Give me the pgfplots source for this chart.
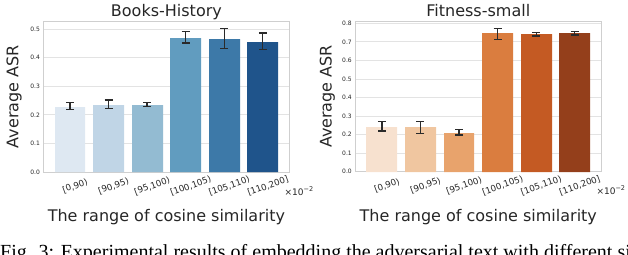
\documentclass[border=0pt]{standalone}
\usepackage{fontspec}
\setmainfont{DejaVu Sans}
\newfontfamily\capfont{Liberation Serif}
\usepackage{pgfplots}
\pgfplotsset{compat=1.18}

\definecolor{bA}{HTML}{DEE8F2}
\definecolor{bB}{HTML}{C0D5E6}
\definecolor{bC}{HTML}{93BBD2}
\definecolor{bD}{HTML}{619CBF}
\definecolor{bE}{HTML}{3D79A8}
\definecolor{bF}{HTML}{1F548B}
\definecolor{oA}{HTML}{F7E1CF}
\definecolor{oB}{HTML}{F0C6A0}
\definecolor{oC}{HTML}{E8A36C}
\definecolor{oD}{HTML}{DA7D3F}
\definecolor{oE}{HTML}{C45A23}
\definecolor{oF}{HTML}{943F1B}
\definecolor{spinec}{HTML}{CFCFCF}
\definecolor{gridc}{HTML}{E3E3E3}
\definecolor{errc}{HTML}{2A2A2A}
\definecolor{txtc}{HTML}{262626}

\pgfplotsset{
  every axis title shift=0pt,
  panel/.style={
    scale only axis, width=246pt, height=150.5pt, anchor=south west,
    xmin=-0.69, xmax=5.69, ymin=0,
    xtick={0,...,5},
    xticklabels={{[0,90)},{[90,95)},{[95,100)},{[100,105)},{[105,110)},{[110,200]}},
    major tick length=0pt,
    ymajorgrids, grid style={draw=gridc, line width=1pt},
    axis line style={draw=spinec, line width=0.9pt},
    /pgf/number format/assume math mode=true,
    tick label style={text=txtc},
    xticklabel style={font=\fontsize{8.7}{10}\selectfont, rotate=20, anchor=center, yshift=-15pt},
    yticklabel style={font=\fontsize{6}{7}\selectfont, /pgf/number format/fixed,
      /pgf/number format/fixed zerofill, /pgf/number format/precision=1},
    ylabel={Average ASR},
    xlabel={The range of cosine similarity},
    label style={font=\fontsize{16}{18}\selectfont, text=txtc},
    xlabel style={at={(axis description cs:0.5,0)}, anchor=base, yshift=-49.7pt},
    title style={at={(axis description cs:0.5,1)}, anchor=base, yshift=4.8pt,
      font=\fontsize{16}{18}\selectfont, text=txtc},
    ybar, bar width=0.8, bar shift=0pt,
    clip=false,
  },
  barc/.style={fill=#1, draw=#1, line width=0.01pt,
    error bars/.cd, y dir=both, y explicit,
    error mark=-,
    error bar style={line width=1.3pt, draw=errc, solid},
    error mark options={rotate=90, line width=1.3pt, draw=errc, solid, mark size=4pt}},
}

\begin{document}
\begin{tikzpicture}[x=1pt,y=1pt]

\begin{axis}[panel, at={(43.4pt,82pt)}, ymax=0.527,
  ytick={0,0.1,...,0.5},
  title={Books-History},
  ylabel style={at={(axis description cs:-0.1187,0.5)}, anchor=center}]
\addplot[barc=bA] coordinates {(0,0.228) += (0,0.016) -= (0,0.008)};
\addplot[barc=bB] coordinates {(1,0.234) += (0,0.018) -= (0,0.011)};
\addplot[barc=bC] coordinates {(2,0.234) += (0,0.010) -= (0,0.004)};
\addplot[barc=bD] coordinates {(3,0.470) += (0,0.021) -= (0,0.018)};
\addplot[barc=bE] coordinates {(4,0.464) += (0,0.038) -= (0,0.032)};
\addplot[barc=bF] coordinates {(5,0.455) += (0,0.032) -= (0,0.026)};
\node[anchor=base west, inner sep=0pt, font=\fontsize{9}{10}\selectfont, text=txtc]
  at (axis description cs:1,0) [xshift=-5pt, yshift=-23pt]
  {×10\raisebox{0.42em}{\fontsize{6.5}{7}\selectfont −2}};
\end{axis}

\begin{axis}[panel, at={(355.3pt,82.3pt)}, ymax=0.812,
  ytick={0,0.1,...,0.8},
  title={Fitness-small},
  ylabel style={at={(axis description cs:-0.1138,0.5)}, anchor=center}]
\addplot[barc=oA] coordinates {(0,0.243) += (0,0.027) -= (0,0.024)};
\addplot[barc=oB] coordinates {(1,0.243) += (0,0.027) -= (0,0.036)};
\addplot[barc=oC] coordinates {(2,0.210) += (0,0.019) -= (0,0.012)};
\addplot[barc=oD] coordinates {(3,0.746) += (0,0.027) -= (0,0.031)};
\addplot[barc=oE] coordinates {(4,0.741) += (0,0.010) -= (0,0.009)};
\addplot[barc=oF] coordinates {(5,0.746) += (0,0.009) -= (0,0.009)};
\node[anchor=base west, inner sep=0pt, font=\fontsize{9}{10}\selectfont, text=txtc]
  at (axis description cs:1,0) [xshift=-5pt, yshift=-23pt]
  {×10\raisebox{0.42em}{\fontsize{6.5}{7}\selectfont −2}};
\end{axis}

\begin{scope}
\clip (0pt,0pt) rectangle (628pt,254pt);
\node[anchor=base west, inner sep=0pt, font=\capfont\fontsize{20}{24}\selectfont, text=black]
  at (0pt,-4.5pt) {Fig. 3: Experimental results of embedding the adversarial text with different similarity};
\end{scope}

\pgfresetboundingbox
\path[use as bounding box] (0pt,0pt) rectangle (628pt,254pt);
\end{tikzpicture}
\end{document}
